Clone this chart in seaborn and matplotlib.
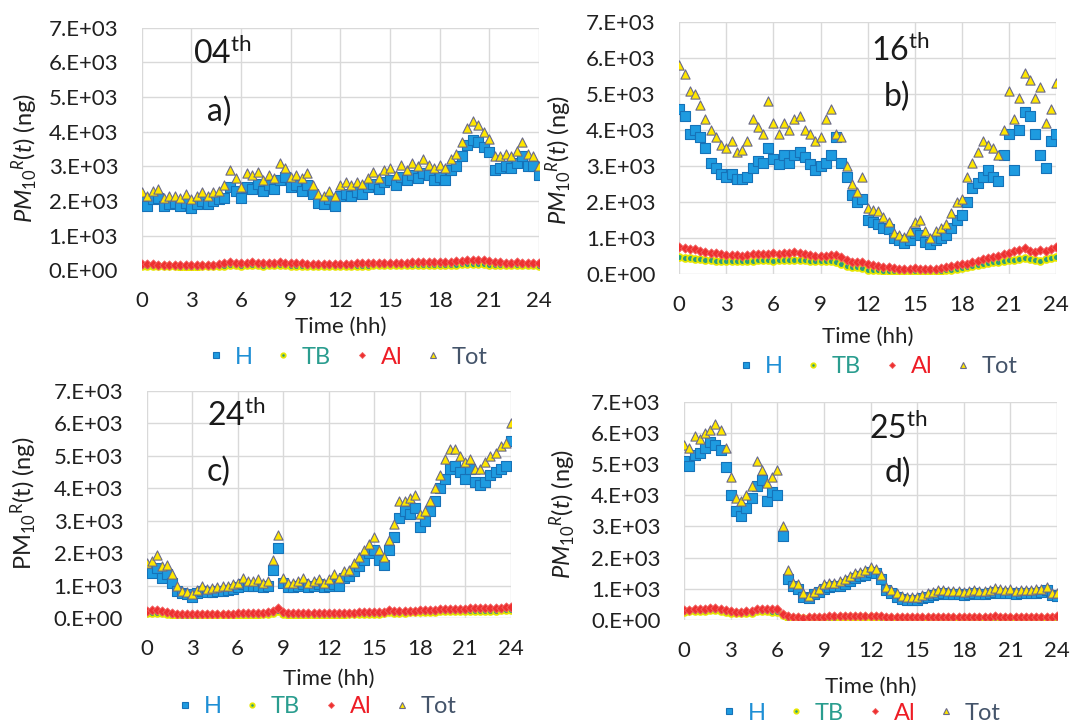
import numpy as np
import pandas as pd
import matplotlib
matplotlib.use("Agg")
import matplotlib.pyplot as plt
from matplotlib.lines import Line2D
import seaborn as sns

# ---------------- data (ng), sampled every 20 minutes from 0 to 24 h ----------------
time_hh = np.arange(73) / 3.0

a_H = [2000,1850,2050,2100,1850,1900,1950,1850,1950,1800,1900,2000,
       1900,2000,2050,2100,2400,2300,2100,2400,2350,2500,2300,2450,
       2350,2600,2700,2400,2450,2300,2450,2200,1950,1900,2050,1850,
       2150,2200,2150,2250,2200,2400,2500,2350,2550,2600,2450,2700,
       2600,2750,2650,2800,2750,2600,2700,2600,2900,3000,3300,3600,
       3750,3700,3550,3400,2900,2950,3000,2950,3100,3300,3000,3000,
       2750]
a_TB = [130,125,120,120,115,115,115,110,110,110,110,115,
        115,120,125,140,150,145,140,145,150,145,140,150,
        150,155,145,140,140,135,130,125,125,120,120,125,
        130,130,135,135,140,140,145,145,145,150,150,150,
        155,155,155,160,160,155,155,160,165,170,180,190,
        195,195,190,170,155,150,150,150,155,150,145,145,
        140]
a_Al = [180,175,175,170,170,165,165,165,160,160,160,165,
        165,170,175,200,230,220,210,220,230,215,210,225,
        225,230,220,210,205,200,195,190,185,180,180,185,
        190,195,195,200,205,205,210,215,215,220,220,225,
        225,230,230,235,235,230,235,240,250,265,285,300,
        305,305,300,270,240,230,225,225,230,225,220,215,
        210]
a_Tot = [2250,2150,2300,2350,2100,2150,2150,2100,2200,2050,2150,2250,
         2150,2250,2300,2450,2900,2650,2400,2800,2750,2850,2600,2750,
         2650,3100,2950,2700,2750,2650,2800,2450,2200,2150,2300,2150,
         2450,2550,2450,2550,2500,2650,2850,2650,2900,2950,2750,3050,
         2900,3100,3000,3200,3050,2950,3050,2950,3200,3350,3700,4100,
         4300,4200,4000,3800,3300,3300,3350,3300,3450,3700,3350,3300,
         3000]

b_H = [4600,4400,3900,4000,3800,3500,3100,2950,2800,2700,2800,2650,
       2650,2700,2950,3150,3100,3500,3200,3050,3300,3100,3300,3400,
       3250,3050,2900,3000,3100,3300,3800,3100,2700,2200,2000,2100,
       1500,1450,1400,1300,1250,1000,950,880,950,1150,1100,900,
       850,950,1000,1100,1300,1500,1650,2000,2400,2550,2700,2900,
       2700,2600,3300,3900,2900,4000,4500,4400,3900,3300,2950,3700,
       3900]
b_TB = [470,460,440,430,420,400,390,380,370,360,360,360,
        360,370,380,390,400,390,380,390,400,400,410,400,
        390,380,370,360,370,380,350,300,230,200,190,170,
        130,120,110,100,95,90,90,90,90,95,95,90,
        90,95,100,110,120,140,170,200,230,260,290,310,
        330,350,370,390,410,430,460,420,400,380,420,440,
        480]
b_Al = [750,730,710,690,650,620,600,580,560,540,540,530,
        520,540,560,560,570,560,580,570,590,600,620,600,
        560,540,520,510,500,530,540,480,400,350,340,330,
        290,270,240,210,190,170,160,160,160,170,160,150,
        150,160,180,200,220,250,280,300,340,380,420,460,
        480,520,560,600,640,680,720,650,620,680,650,700,
        750]
b_Tot = [5800,5550,5100,5000,4700,4300,4000,3800,3600,3500,3700,3400,
         3450,3700,4300,4100,3900,4800,4200,3900,4200,4000,4300,4400,
         4000,3900,3700,3800,4300,4600,3900,3800,3000,2500,2300,2700,
         1850,1800,1750,1600,1450,1150,1100,1050,1200,1450,1500,1200,
         1000,1200,1300,1400,1700,2000,2100,2700,3100,3400,3700,3600,
         3500,3300,4000,5100,4300,4900,5600,5400,4900,5200,4200,4600,
         5300]

c_H = [1450,1400,1550,1250,1350,1100,850,780,750,650,780,850,
       800,820,850,850,880,900,950,1050,1000,980,1000,950,
       1000,1500,2150,1100,950,950,1000,1050,950,1000,1050,950,
       1000,1050,1000,1250,1300,1450,1600,1800,2000,2100,1800,1650,
       2100,2500,3100,3300,3200,3400,2800,3000,3300,3600,4000,4300,
       4600,4700,4500,4300,4600,4200,4100,4200,4400,4500,4600,4700,
       5450]
c_TB = [160,170,160,150,130,110,90,80,80,80,85,90,
        90,90,95,95,100,100,105,110,110,115,115,120,
        130,170,220,120,100,100,100,100,105,105,110,110,
        110,110,115,115,120,120,125,130,135,140,140,150,
        180,170,170,175,180,185,190,195,200,205,210,215,
        215,220,220,225,225,230,230,235,235,240,245,250,
        260]
c_Al = [230,250,260,240,200,170,140,130,125,120,125,130,
        125,130,135,140,140,145,150,155,160,160,165,170,
        180,240,310,180,160,155,155,150,150,155,155,160,
        160,160,165,165,170,175,180,185,190,195,200,205,
        260,220,225,230,235,240,250,255,260,270,280,290,
        290,295,300,300,305,310,310,315,320,325,330,340,
        360]
c_Tot = [1700,1750,1950,1600,1650,1350,1000,850,820,750,870,980,
         900,930,950,980,1000,1050,1100,1250,1150,1150,1200,1100,
         1150,1800,2550,1250,1100,1100,1150,1250,1100,1150,1200,1100,
         1200,1350,1250,1450,1500,1700,1900,2100,2300,2500,2100,1900,
         2400,2900,3600,3600,3700,3800,3200,3300,3600,4000,4400,4900,
         5200,5200,5000,4800,4900,4600,4600,4800,5000,5100,5300,5400,
         6000]

d_H = [5100,4950,5300,5350,5500,5700,5600,5450,4900,4000,3500,3350,
       3600,3900,4300,4500,3800,4100,4000,2700,1300,1100,1000,750,
       700,820,900,1000,1050,1100,1100,1150,1250,1350,1400,1450,
       1550,1500,1300,950,850,750,680,650,650,640,700,750,
       800,830,850,840,830,820,800,830,850,820,830,860,
       900,880,850,870,840,850,860,870,880,900,950,800,
       780]
d_TB = [270,280,290,300,300,310,310,290,260,230,220,220,
        230,240,280,290,280,270,270,150,80,70,60,50,
        50,60,70,70,80,80,90,90,90,90,100,100,
        100,90,80,70,60,60,60,60,60,60,60,60,
        70,70,70,70,70,70,70,70,70,70,70,70,
        70,70,70,70,70,70,70,70,70,70,70,70,
        70]
d_Al = [320,330,340,350,360,370,370,350,310,280,270,270,
        280,300,340,360,350,340,340,200,120,110,100,80,
        90,100,110,110,120,120,130,130,130,130,140,140,
        140,130,120,110,100,100,100,100,100,100,100,110,
        110,110,110,110,110,110,110,110,110,110,110,110,
        120,110,110,110,110,110,110,110,110,110,110,110,
        120]
d_Tot = [5600,5500,5900,5800,6000,6100,6300,6100,5500,4600,3900,3800,
         4000,4300,5100,4800,4400,4600,4800,3000,1600,1200,1150,850,
         780,900,1000,1150,1200,1200,1250,1300,1400,1500,1550,1600,
         1700,1650,1450,1050,950,850,760,750,740,730,800,850,
         900,950,950,940,930,920,900,930,950,920,940,960,
         1020,980,960,980,940,950,960,970,980,1000,1050,880,
         850]

series_names = ["H", "TB", "Al", "Tot"]
day_labels = ["04", "16", "24", "25"]
panel_letters = ["a)", "b)", "c)", "d)"]
x_ticks = [0, 3, 6, 9, 12, 15, 18, 21, 24]
y_ticks = [0, 1000, 2000, 3000, 4000, 5000, 6000, 7000]
y_tick_labels = ["0.E+00", "1.E+03", "2.E+03", "3.E+03", "4.E+03", "5.E+03", "6.E+03", "7.E+03"]
x_label = "Time (hh)"

panels = [
    dict(H=a_H, TB=a_TB, Al=a_Al, Tot=a_Tot),
    dict(H=b_H, TB=b_TB, Al=b_Al, Tot=b_Tot),
    dict(H=c_H, TB=c_TB, Al=c_Al, Tot=c_Tot),
    dict(H=d_H, TB=d_TB, Al=d_Al, Tot=d_Tot),
]

# ---------------- style ----------------
sns.set_theme(style="white")
FONT = "Lato"
plt.rcParams["font.family"] = [FONT, "DejaVu Sans"]
plt.rcParams["mathtext.fontset"] = "custom"
plt.rcParams["mathtext.rm"] = FONT
plt.rcParams["mathtext.it"] = FONT + ":italic"
plt.rcParams["mathtext.bf"] = FONT + ":bold"

styles = {
    "H":   dict(marker="s", s=42, facecolor="#1E9BE0", edgecolor="#1672B8", lw=0.8),
    "TB":  dict(marker="o", s=24, facecolor="#2A9D7F", edgecolor="#E6E600", lw=1.3),
    "Al":  dict(marker="D", s=22, facecolor="#EE3030", edgecolor="#F26060", lw=0.6),
    "Tot": dict(marker="^", s=44, facecolor="#FFE600", edgecolor="#6A6A8A", lw=0.8),
}
legend_text_colors = {"H": "#1E8FD5", "TB": "#2A9D8F", "Al": "#EE1C25", "Tot": "#44546A"}

W, H = 1070, 723
fig = plt.figure(figsize=(W / 100, H / 100), dpi=100)

# axes boxes in pixels: left, top, right, bottom
boxes = [(141.7, 27.5, 539.0, 270.4),
         (679.3, 22.3, 1056.0, 274.3),
         (146.7, 390.8, 510.7, 618.3),
         (684.3, 401.7, 1057.0, 620.0)]
ylabel_pos = [(-0.294, 0.4615), (-0.319, 0.4536), (-0.337, 0.5055), (-0.326, 0.4847)]
xlabel_y = [-0.232, -0.25, -0.268, -0.3055]
legend_pos = [(347, 357), (877, 366.7), (316, 706.7), (860, 713)]
title_pos = [(3.1, 5940), (12.2, 5925), (4.0, 5917), (11.9, 5792)]
letter_pos = [(4.7, 4573), (13.9, 4933), (4.75, 4511), (13.75, 4702)]
italic_ylabel = [True, True, False, True]

for i, (box, data) in enumerate(zip(boxes, panels)):
    l, t, r, b = box
    ax = fig.add_axes([l / W, 1 - b / H, (r - l) / W, (b - t) / H])
    df = pd.DataFrame({"time": time_hh, **{k: np.asarray(v, float) for k, v in data.items()}})
    for name in series_names:
        st = styles[name]
        sns.scatterplot(data=df, x="time", y=name, ax=ax, marker=st["marker"], s=st["s"],
                        color=st["facecolor"], edgecolor=st["edgecolor"], linewidth=st["lw"],
                        legend=False, zorder=3)
    ax.set_xlim(0, 24)
    ax.set_ylim(0, 7000)
    ax.set_xticks(x_ticks)
    ax.set_xticklabels([str(v) for v in x_ticks])
    ax.set_yticks(y_ticks)
    ax.set_yticklabels(y_tick_labels)
    ax.tick_params(axis="both", length=0, labelsize=16, colors="#202020")
    ax.tick_params(axis="x", pad=15)
    ax.tick_params(axis="y", pad=17)
    ax.grid(True, color="#D9D9D9", linewidth=1.0, zorder=0)
    ax.set_axisbelow(True)
    for sp in ax.spines.values():
        sp.set_visible(False)

    ax.set_xlabel(x_label, fontsize=16, color="#202020")
    ax.xaxis.label.set_va("center")
    ax.xaxis.set_label_coords(0.5, xlabel_y[i])
    if italic_ylabel[i]:
        ylab = r"$PM_{10}{}^{R}(t)$ (ng)"
    else:
        ylab = r"PM$_{10}{}^{\mathrm{R}}$(t) (ng)"
    ax.set_ylabel(ylab, fontsize=17, color="#202020")
    ax.yaxis.label.set_va("center")
    ax.yaxis.set_label_coords(*ylabel_pos[i])

    ax.text(title_pos[i][0], title_pos[i][1], day_labels[i] + r"$^{\mathrm{th}}$",
            fontsize=23, color="#1A1A1A", va="baseline", ha="left")
    ax.text(letter_pos[i][0], letter_pos[i][1], panel_letters[i],
            fontsize=23, color="#1A1A1A", va="center", ha="center")

    handles = [Line2D([], [], linestyle="none", marker=styles[n]["marker"],
                      markersize=np.sqrt(styles[n]["s"]) * 0.65,
                      markerfacecolor=styles[n]["facecolor"],
                      markeredgecolor=styles[n]["edgecolor"],
                      markeredgewidth=styles[n]["lw"]) for n in series_names]
    lx, ly = legend_pos[i]
    leg = ax.legend(handles, series_names, loc="center", ncol=4, frameon=False,
                    bbox_to_anchor=(lx / W, 1 - ly / H), bbox_transform=fig.transFigure,
                    fontsize=17, handletextpad=0.4, columnspacing=0.9, handlelength=0.8,
                    borderaxespad=0, borderpad=0)
    for txt, n in zip(leg.get_texts(), series_names):
        txt.set_color(legend_text_colors[n])

fig.savefig("out.png", dpi=100)
